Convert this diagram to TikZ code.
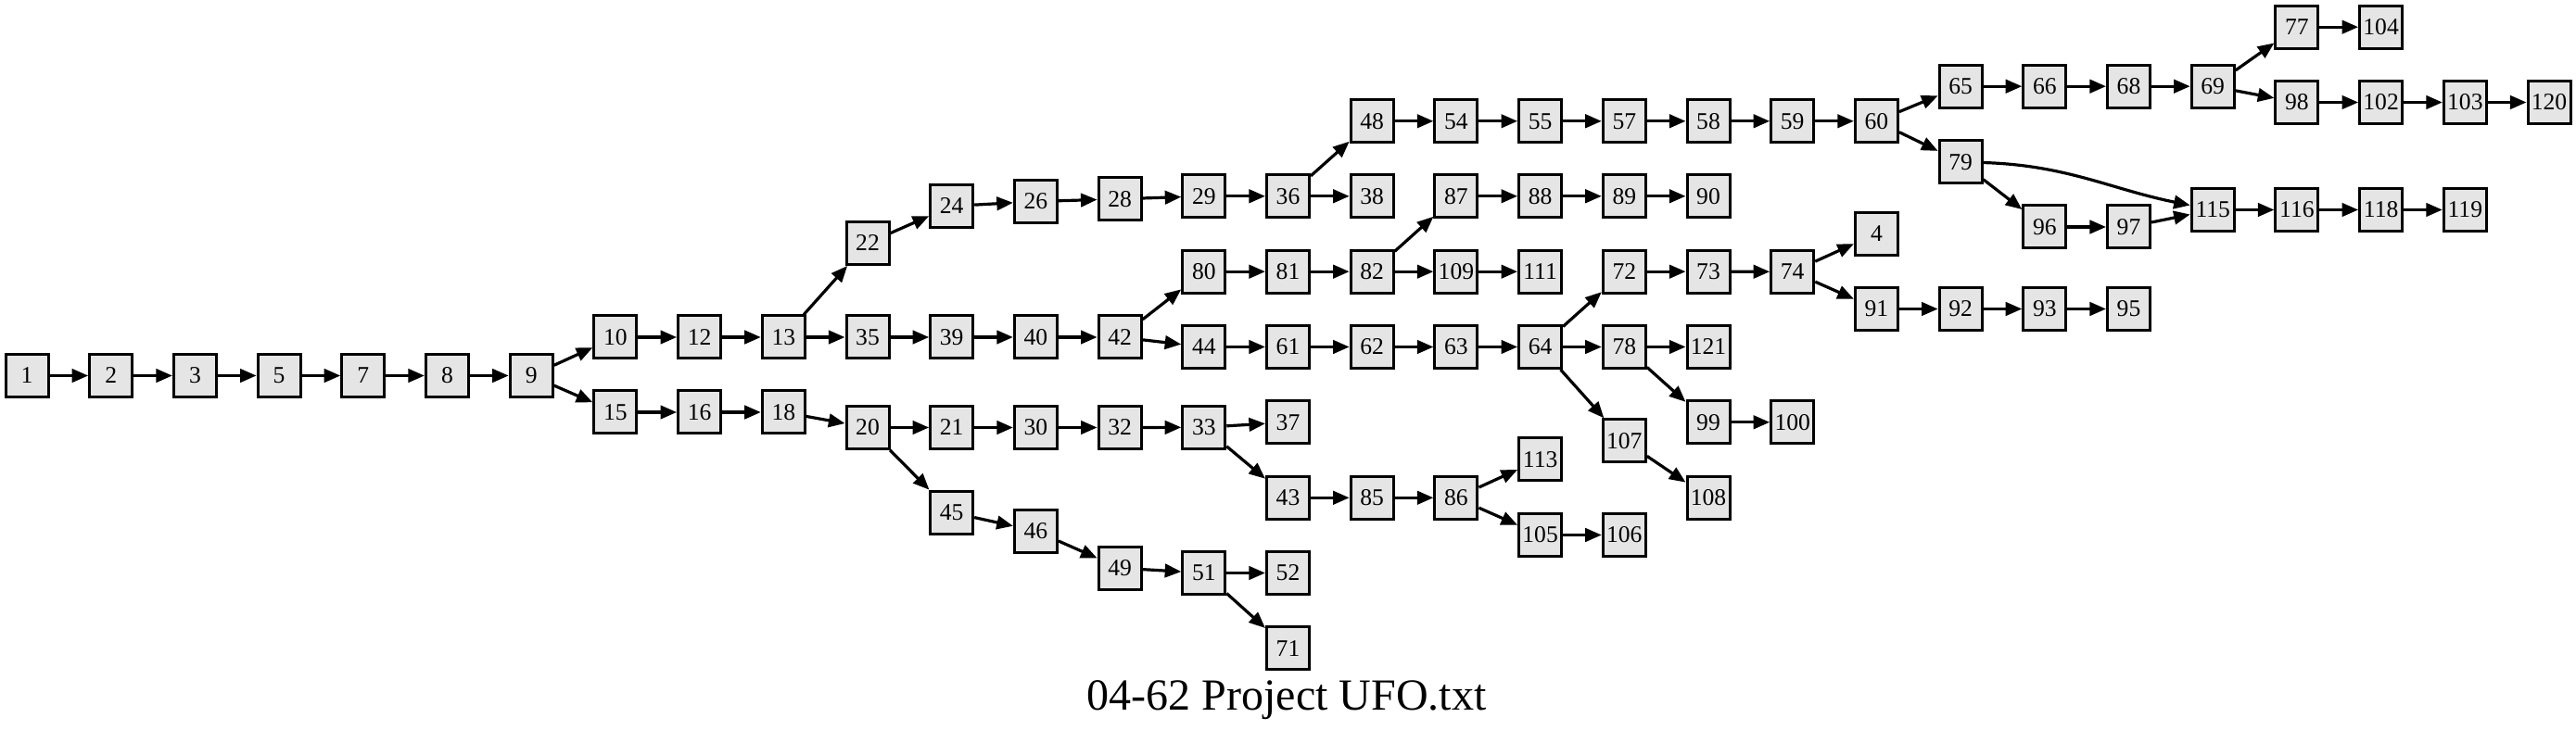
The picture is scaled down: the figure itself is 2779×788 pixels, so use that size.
\documentclass[tikz,border=0pt]{standalone}
\usepackage{fontspec}
\setmainfont{Liberation Serif}
\usepackage{tikz}
\usetikzlibrary{arrows.meta}
\definecolor{boxgray}{RGB}{229,229,229}

\begin{document}
\begin{tikzpicture}[x=0.25pt,y=0.25pt,yscale=-1,xscale=1,
  box/.style={draw=black, fill=boxgray, line width=0.75pt, rectangle, minimum width=11.5pt, minimum height=11.5pt, inner sep=0pt, font=\fontsize{6.4}{7}\selectfont},
  edge/.style={line width=0.8pt, -{Triangle[length=4.4pt,width=3.6pt]}}]
\useasboundingbox (0,0) rectangle (2779,788);

% Nodes, rank by rank
\node [box] (n1) at (29,405.5) {1};
\node [box] (n2) at (119.7,405.5) {2};
\node [box] (n3) at (210.4,405.5) {3};
\node [box] (n5) at (301.1,405.5) {5};
\node [box] (n7) at (391.8,405.5) {7};
\node [box] (n8) at (482.5,405.5) {8};
\node [box] (n9) at (573.2,405.5) {9};
\node [box] (n10) at (663.9,364) {10};
\node [box] (n15) at (663.9,445) {15};
\node [box] (n12) at (754.6,364) {12};
\node [box] (n16) at (754.6,445) {16};
\node [box] (n13) at (845.3,364) {13};
\node [box] (n18) at (845.3,445) {18};
\node [box] (n22) at (936,262.5) {22};
\node [box] (n35) at (936,364) {35};
\node [box] (n20) at (936,461.5) {20};
\node [box] (n24) at (1026.7,222.5) {24};
\node [box] (n39) at (1026.7,364) {39};
\node [box] (n21) at (1026.7,461.5) {21};
\node [box] (n45) at (1026.7,553.2) {45};
\node [box] (n26) at (1117.4,217.5) {26};
\node [box] (n40) at (1117.4,364) {40};
\node [box] (n30) at (1117.4,461.5) {30};
\node [box] (n46) at (1117.4,573.2) {46};
\node [box] (n28) at (1208.1,214.8) {28};
\node [box] (n42) at (1208.1,364) {42};
\node [box] (n32) at (1208.1,461.5) {32};
\node [box] (n49) at (1208.1,613.2) {49};
\node [box] (n29) at (1298.8,211.8) {29};
\node [box] (n80) at (1298.8,293.2) {80};
\node [box] (n44) at (1298.8,374.5) {44};
\node [box] (n33) at (1298.8,461.3) {33};
\node [box] (n51) at (1298.8,618.5) {51};
\node [box] (n36) at (1389.5,211.8) {36};
\node [box] (n81) at (1389.5,293.2) {81};
\node [box] (n61) at (1389.5,374.5) {61};
\node [box] (n37) at (1389.5,455.8) {37};
\node [box] (n43) at (1389.5,537.3) {43};
\node [box] (n52) at (1389.5,618.5) {52};
\node [box] (n71) at (1389.5,700) {71};
\node [box] (n48) at (1480.2,130.8) {48};
\node [box] (n38) at (1480.2,211.8) {38};
\node [box] (n82) at (1480.2,293.2) {82};
\node [box] (n62) at (1480.2,374.5) {62};
\node [box] (n85) at (1480.2,537.3) {85};
\node [box] (n54) at (1570.9,130.8) {54};
\node [box] (n87) at (1570.9,211.8) {87};
\node [box] (n109) at (1570.9,293.2) {109};
\node [box] (n63) at (1570.9,374.5) {63};
\node [box] (n86) at (1570.9,537.3) {86};
\node [box] (n55) at (1661.6,130.8) {55};
\node [box] (n88) at (1661.6,211.8) {88};
\node [box] (n111) at (1661.6,293.2) {111};
\node [box] (n64) at (1661.6,374.5) {64};
\node [box] (n113) at (1661.6,495.8) {113};
\node [box] (n105) at (1661.6,577.5) {105};
\node [box] (n57) at (1752.3,130.8) {57};
\node [box] (n89) at (1752.3,211.8) {89};
\node [box] (n72) at (1752.3,293.2) {72};
\node [box] (n78) at (1752.3,374.5) {78};
\node [box] (n107) at (1752.3,475.8) {107};
\node [box] (n106) at (1752.3,577.5) {106};
\node [box] (n58) at (1843,130.8) {58};
\node [box] (n90) at (1843,211.8) {90};
\node [box] (n73) at (1843,293.2) {73};
\node [box] (n121) at (1843,374.5) {121};
\node [box] (n99) at (1843,455.8) {99};
\node [box] (n108) at (1843,537.2) {108};
\node [box] (n59) at (1933.7,130.8) {59};
\node [box] (n74) at (1933.7,293.3) {74};
\node [box] (n100) at (1933.7,455.8) {100};
\node [box] (n60) at (2024.4,130.8) {60};
\node [box] (n4) at (2024.4,252.2) {4};
\node [box] (n91) at (2024.4,333.5) {91};
\node [box] (n65) at (2115.1,93.2) {65};
\node [box] (n79) at (2115.1,174.8) {79};
\node [box] (n92) at (2115.1,333.5) {92};
\node [box] (n66) at (2205.8,93.2) {66};
\node [box] (n96) at (2205.8,245) {96};
\node [box] (n93) at (2205.8,333.5) {93};
\node [box] (n68) at (2296.5,93.2) {68};
\node [box] (n97) at (2296.5,245) {97};
\node [box] (n95) at (2296.5,333.5) {95};
\node [box] (n69) at (2387.2,93.2) {69};
\node [box] (n115) at (2387.2,226.5) {115};
\node [box] (n77) at (2477.9,29.2) {77};
\node [box] (n98) at (2477.9,110.5) {98};
\node [box] (n116) at (2477.9,226.5) {116};
\node [box] (n104) at (2568.6,29.2) {104};
\node [box] (n102) at (2568.6,110.5) {102};
\node [box] (n118) at (2568.6,226.5) {118};
\node [box] (n103) at (2659.3,110.5) {103};
\node [box] (n119) at (2659.3,226.5) {119};
\node [box] (n120) at (2750,110.5) {120};

% Edges
\draw [edge] (n1) -- (n2);
\draw [edge] (n2) -- (n3);
\draw [edge] (n3) -- (n5);
\draw [edge] (n5) -- (n7);
\draw [edge] (n7) -- (n8);
\draw [edge] (n8) -- (n9);
\draw [edge] (n9) -- (n10);
\draw [edge] (n9) -- (n15);
\draw [edge] (n10) -- (n12);
\draw [edge] (n12) -- (n13);
\draw [edge] (n13) -- (n22);
\draw [edge] (n13) -- (n35);
\draw [edge] (n15) -- (n16);
\draw [edge] (n16) -- (n18);
\draw [edge] (n18) -- (n20);
\draw [edge] (n22) -- (n24);
\draw [edge] (n24) -- (n26);
\draw [edge] (n26) -- (n28);
\draw [edge] (n28) -- (n29);
\draw [edge] (n29) -- (n36);
\draw [edge] (n36) -- (n48);
\draw [edge] (n36) -- (n38);
\draw [edge] (n35) -- (n39);
\draw [edge] (n39) -- (n40);
\draw [edge] (n40) -- (n42);
\draw [edge] (n42) -- (n80);
\draw [edge] (n42) -- (n44);
\draw [edge] (n20) -- (n21);
\draw [edge] (n20) -- (n45);
\draw [edge] (n21) -- (n30);
\draw [edge] (n30) -- (n32);
\draw [edge] (n32) -- (n33);
\draw [edge] (n33) -- (n37);
\draw [edge] (n33) -- (n43);
\draw [edge] (n45) -- (n46);
\draw [edge] (n46) -- (n49);
\draw [edge] (n49) -- (n51);
\draw [edge] (n51) -- (n52);
\draw [edge] (n51) -- (n71);
\draw [edge] (n80) -- (n81);
\draw [edge] (n81) -- (n82);
\draw [edge] (n82) -- (n87);
\draw [edge] (n82) -- (n109);
\draw [edge] (n87) -- (n88);
\draw [edge] (n88) -- (n89);
\draw [edge] (n89) -- (n90);
\draw [edge] (n109) -- (n111);
\draw [edge] (n44) -- (n61);
\draw [edge] (n61) -- (n62);
\draw [edge] (n62) -- (n63);
\draw [edge] (n63) -- (n64);
\draw [edge] (n64) -- (n72);
\draw [edge] (n64) -- (n78);
\draw [edge] (n64) -- (n107);
\draw [edge] (n72) -- (n73);
\draw [edge] (n73) -- (n74);
\draw [edge] (n74) -- (n4);
\draw [edge] (n74) -- (n91);
\draw [edge] (n91) -- (n92);
\draw [edge] (n92) -- (n93);
\draw [edge] (n93) -- (n95);
\draw [edge] (n78) -- (n121);
\draw [edge] (n78) -- (n99);
\draw [edge] (n99) -- (n100);
\draw [edge] (n107) -- (n108);
\draw [edge] (n43) -- (n85);
\draw [edge] (n85) -- (n86);
\draw [edge] (n86) -- (n113);
\draw [edge] (n86) -- (n105);
\draw [edge] (n105) -- (n106);
\draw [edge] (n48) -- (n54);
\draw [edge] (n54) -- (n55);
\draw [edge] (n55) -- (n57);
\draw [edge] (n57) -- (n58);
\draw [edge] (n58) -- (n59);
\draw [edge] (n59) -- (n60);
\draw [edge] (n60) -- (n65);
\draw [edge] (n60) -- (n79);
\draw [edge] (n65) -- (n66);
\draw [edge] (n66) -- (n68);
\draw [edge] (n68) -- (n69);
\draw [edge] (n69) -- (n77);
\draw [edge] (n69) -- (n98);
\draw [edge] (n77) -- (n104);
\draw [edge] (n98) -- (n102);
\draw [edge] (n102) -- (n103);
\draw [edge] (n103) -- (n120);
\draw [edge] (n79) to [out=3,in=-160] (n115);
\draw [edge] (n79) -- (n96);
\draw [edge] (n96) -- (n97);
\draw [edge] (n97) -- (n115);
\draw [edge] (n115) -- (n116);
\draw [edge] (n116) -- (n118);
\draw [edge] (n118) -- (n119);

% Title
\node [anchor=base, font=\fontsize{12}{14}\selectfont] (title) at (1388,766.7) {04-62 Project UFO.txt};

\end{tikzpicture}
\end{document}
